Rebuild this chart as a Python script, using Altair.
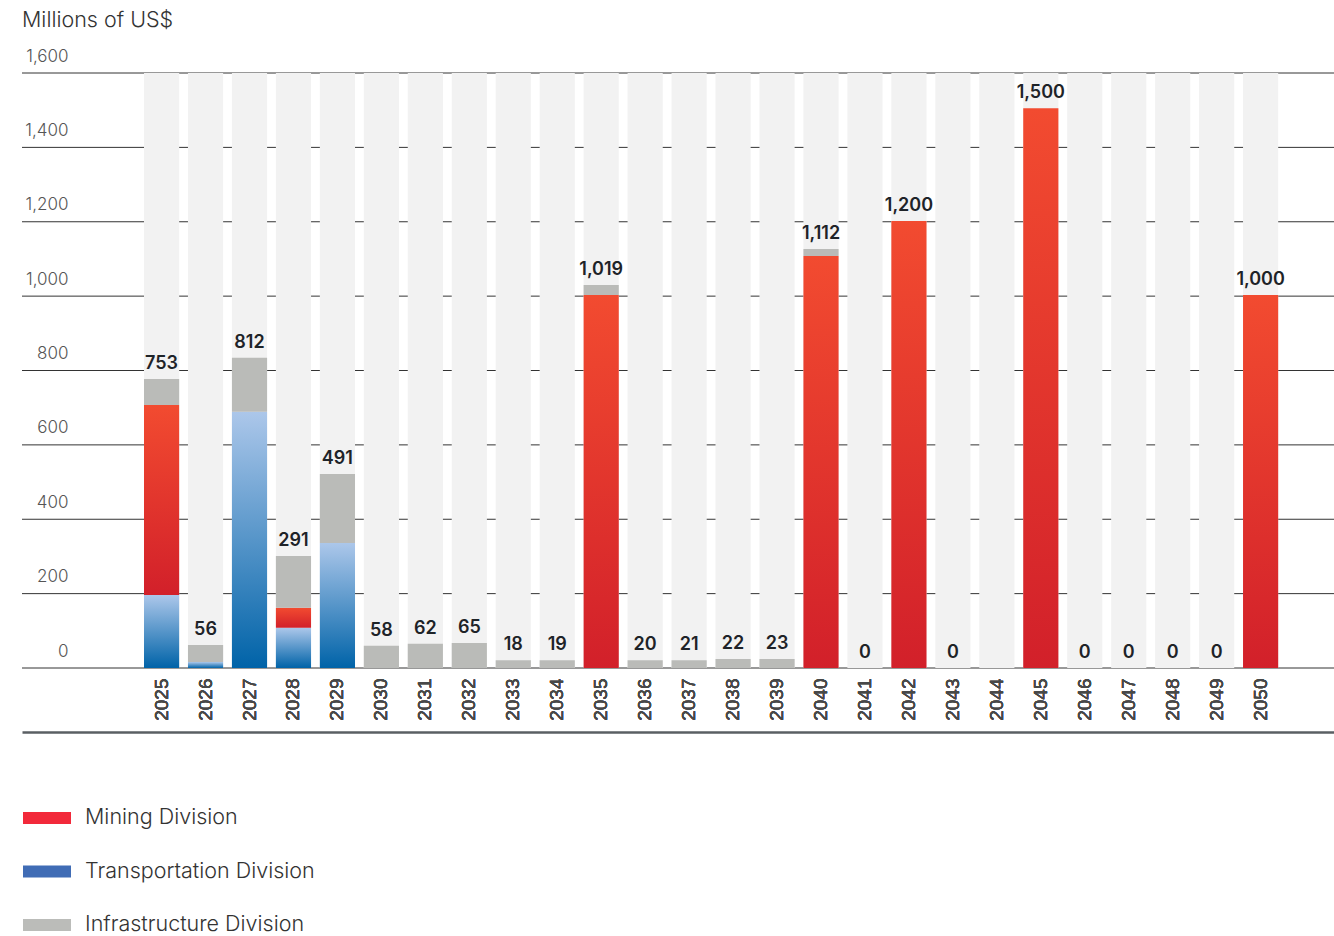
import altair as alt
import pandas as pd

years = [str(y) for y in range(2025, 2051)]
mining = [511, 0, 0, 54, 0, 0, 0, 0, 0, 0, 1003, 0, 0, 0, 0, 1108, 0, 1202, 0, 0, 1505, 0, 0, 0, 0, 1003]
transport = [196, 16, 689, 108, 336, 0, 0, 0, 0, 0, 0, 0, 0, 0, 0, 0, 0, 0, 0, 0, 0, 0, 0, 0, 0, 0]
infra = [70, 46, 145, 139, 186, 60, 65, 67, 21, 21, 27, 21, 21, 24, 24, 19, 0, 0, 0, 0, 0, 0, 0, 0, 0, 0]
labels = ["753", "56", "812", "291", "491", "58", "62", "65", "18", "19", "1,019", "20", "21",
          "22", "23", "1,112", "0", "1,200", "0", "", "1,500", "0", "0", "0", "0", "1,000"]
y_ticks = [0, 200, 400, 600, 800, 1000, 1200, 1400, 1600]
divisions = ["Mining Division", "Transportation Division", "Infrastructure Division"]
legend_colors = ["#f2293a", "#406cb5", "#bbbcb9"]

# stacked segments: transport bottom, mining middle, infrastructure top
rows = []
for i, yr in enumerate(years):
    t0, t1 = 0, transport[i]
    m0, m1 = t1, t1 + mining[i]
    g0, g1 = m1, m1 + infra[i]
    rows.append({"year": yr, "div": "Transportation Division", "start": t0, "end": t1})
    rows.append({"year": yr, "div": "Mining Division", "start": m0, "end": m1})
    rows.append({"year": yr, "div": "Infrastructure Division", "start": g0, "end": g1})
seg = pd.DataFrame(rows)
seg = seg[seg["end"] > seg["start"]]

bg = pd.DataFrame({"year": years, "full": [1600] * len(years)})
lab = pd.DataFrame({"year": years, "label": labels,
                    "top": [transport[i] + mining[i] + infra[i] for i in range(len(years))]})
lab = lab[lab["label"] != ""]
leg = pd.DataFrame({"pos": [0, 1, 1], "div": divisions, "v": [0, 0, 0]})
grid = pd.DataFrame({"tick": y_ticks})

xscale = alt.Scale(type="band", domain=years, paddingInner=0.2, paddingOuter=0, range=[122, 1256.2])
xaxis = alt.Axis(title=None, orient="bottom", domain=False,
                 ticks=False, tickSize=0, labelAngle=270, labelAlign="right", labelBaseline="middle",
                 labelPadding=10, labelFont="Liberation Sans", labelFontSize=19,
                 labelFontWeight="normal", labelColor="#484848",
                 labelOverlap=False, grid=False)
yscale = alt.Scale(domain=[0, 1600], nice=False, zero=True)
yaxis = alt.Axis(title=None, values=y_ticks, format=",d", orient="left", domain=False, ticks=False,
                 tickSize=0, labelAlign="right", labelBaseline="middle", labelPadding=-46,
                 labelOffset=-17, labelFont="Inter", labelFontSize=17, labelFontWeight=300,
                 labelColor="#555555", grid=False)

X = alt.X("year:N", scale=xscale, axis=xaxis)

# full-width horizontal grid lines at the tick values
gridlines = alt.Chart(grid).mark_rule(color="#333333", strokeWidth=1).encode(
    y=alt.Y("tick:Q", scale=yscale, axis=yaxis)
)

background = alt.Chart(bg).mark_bar(color="#f2f2f2").encode(
    x=X, y=alt.Y("full:Q", scale=yscale, axis=yaxis)
)

def grad(top, bottom):
    return alt.Gradient(gradient="linear", x1=0, x2=0, y1=0, y2=1,
                        stops=[alt.GradientStop(color=top, offset=0),
                               alt.GradientStop(color=bottom, offset=1)])

def seg_layer(name, fill):
    return alt.Chart(seg[seg["div"] == name]).mark_bar(fill=fill).encode(
        x=X, y=alt.Y("start:Q", scale=yscale, axis=yaxis), y2="end:Q"
    )

transport_l = seg_layer("Transportation Division", grad("#acc7ea", "#0063a8"))
mining_l = seg_layer("Mining Division", grad("#f24b30", "#d2202a"))
infra_l = seg_layer("Infrastructure Division", "#babbb8")

texts = alt.Chart(lab).mark_text(font="Inter", fontSize=18, fontWeight=600, color="#1e2328",
                                 baseline="middle", dy=-15).encode(
    x=X, y=alt.Y("top:Q", scale=yscale, axis=yaxis), text="label:N"
)

# legend carrier layer; its own x axis provides the full-width bottom rule
legend_l = alt.Chart(leg).mark_square(opacity=0, size=0).encode(
    x=alt.X("pos:Q", scale=alt.Scale(domain=[0, 1], nice=False),
            axis=alt.Axis(title=None, orient="bottom", offset=64, labels=False, ticks=False,
                          grid=False, domainColor="#5a5f63", domainWidth=2.5)),
    y=alt.Y("v:Q", scale=yscale, axis=yaxis),
    color=alt.Color("div:N", scale=alt.Scale(domain=divisions, range=legend_colors),
                    legend=alt.Legend(title=None, orient="none", legendX=1, legendY=721,
                                      direction="vertical", padding=0,
                                      symbolType="M-1,-0.25H1V0.25H-1Z", symbolSize=2304,
                                      symbolOpacity=1, symbolStrokeWidth=0, rowPadding=18.5,
                                      labelOffset=14, labelFont="Inter", labelFontSize=21.5,
                                      labelFontWeight=300, labelColor="#333333",
                                      labelLimit=400))
)

chart = alt.layer(gridlines, background, transport_l, mining_l, infra_l, texts, legend_l).resolve_scale(
    x="independent"
).properties(
    width=1312, height=595,
    background="white",
    title=alt.TitleParams("Millions of US$", anchor="start", frame="group", font="Inter",
                          fontSize=21.5, fontWeight=300, color="#333333", offset=16),
    autosize=alt.AutoSizeParams(type="none"),
    padding={"left": 22, "top": 73, "right": 0, "bottom": 268},
).configure_view(stroke="transparent", strokeWidth=0).configure_axisX(grid=False)

chart.save("out.html", embed_options={"renderer": "svg", "actions": False})
